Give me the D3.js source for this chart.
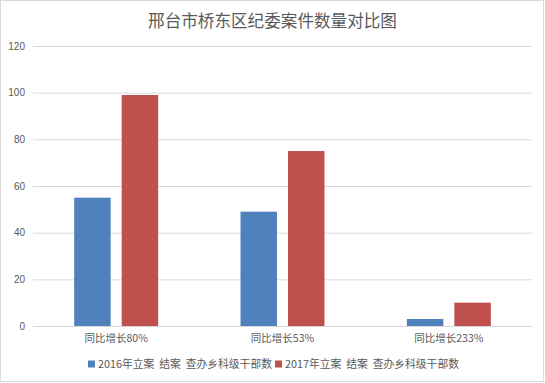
<!DOCTYPE html>
<html>
<head>
<meta charset="utf-8">
<script src="https://cdn.jsdelivr.net/npm/d3@7"></script>
<style>
  body { margin: 0; background: #fff; }
  text { font-family: "Noto Sans CJK SC", "Noto Sans", sans-serif; fill: #595959; }
</style>
</head>
<body>
<div id="chart"></div>
<script>
var svgWidth = 545;
var svgHeight = 383;

var margin = { top: 46, right: 13, bottom: 57, left: 33 };
var width = svgWidth - margin.left - margin.right;
var height = svgHeight - margin.top - margin.bottom;

// data
var categories = ["同比增长80%", "同比增长53%", "同比增长233%"];
var seriesNames = ["2016年立案  结案  查办乡科级干部数", "2017年立案  结案  查办乡科级干部数"];
var values2016 = [55, 49, 3];
var values2017 = [99, 75, 10];
var yTicks = [0, 20, 40, 60, 80, 100, 120];
var colors = ["#4F81BD", "#C0504D"];

var myData = categories.map(function(c, i) {
  return { cat: c, vals: [values2016[i], values2017[i]] };
});

var svg = d3.select("#chart")
  .append("svg")
  .attr("width", svgWidth)
  .attr("height", svgHeight);

// chart border
svg.append("rect")
  .attr("x", 0.5).attr("y", 0.5)
  .attr("width", svgWidth - 2).attr("height", svgHeight - 2)
  .attr("fill", "none")
  .attr("stroke", "#D9D9D9");

// title
svg.append("text")
  .attr("x", svgWidth / 2)
  .attr("y", 27)
  .attr("text-anchor", "middle")
  .style("font-size", "16.6px")
  .text("邢台市桥东区纪委案件数量对比图");

var chartGroup = svg.append("g")
  .attr("transform", `translate(${margin.left}, ${margin.top})`);

var x0 = d3.scaleBand()
  .domain(categories)
  .range([0, width])
  .paddingInner(0.495)
  .paddingOuter(0.2475);

var x1 = d3.scaleBand()
  .domain([0, 1])
  .range([0, x0.bandwidth()])
  .paddingInner(0.232);

var yLinearScale = d3.scaleLinear()
  .domain([0, 120])
  .range([height, 0]);

// gridlines + y labels
var leftAxis = d3.axisLeft(yLinearScale)
  .tickValues(yTicks)
  .tickSize(-width)
  .tickPadding(8);

var yAxis = chartGroup.append("g").call(leftAxis);
yAxis.select(".domain").remove();
yAxis.selectAll("line").attr("stroke", "#D9D9D9");
yAxis.selectAll("text")
  .style("font-size", "10px")
  .style("font-family", "'Liberation Sans', sans-serif")
  .attr("fill", "#595959");

// bars
var groups = chartGroup.selectAll(".grp")
  .data(myData)
  .enter()
  .append("g")
  .attr("transform", d => `translate(${x0(d.cat)}, 0)`);

groups.selectAll("rect")
  .data(d => d.vals)
  .enter()
  .append("rect")
  .attr("x", (v, i) => x1(i))
  .attr("y", v => yLinearScale(v))
  .attr("width", x1.bandwidth())
  .attr("height", v => height - yLinearScale(v))
  .attr("fill", (v, i) => colors[i]);

// x axis labels
var bottomAxis = d3.axisBottom(x0).tickSize(0).tickPadding(9);
var xAxis = chartGroup.append("g")
  .attr("transform", `translate(0, ${height})`)
  .call(bottomAxis);
xAxis.select(".domain").attr("stroke", "#D9D9D9");
xAxis.selectAll("text")
  .style("font-size", "10.5px")
  .style("font-family", "'Noto Sans CJK SC', sans-serif")
  .attr("fill", "#595959");

// legend
var legendX = [88, 275];
var legend = svg.selectAll(".legend")
  .data(seriesNames)
  .enter()
  .append("g")
  .attr("transform", (d, i) => `translate(${legendX[i]}, 364)`);

legend.append("rect")
  .attr("x", 0).attr("y", -3.5)
  .attr("width", 7).attr("height", 7)
  .attr("fill", (d, i) => colors[i]);

legend.append("text")
  .attr("x", 10)
  .attr("y", 4)
  .attr("xml:space", "preserve")
  .style("font-size", "10.8px")
  .style("white-space", "pre")
  .text(d => d);
</script>
</body>
</html>
